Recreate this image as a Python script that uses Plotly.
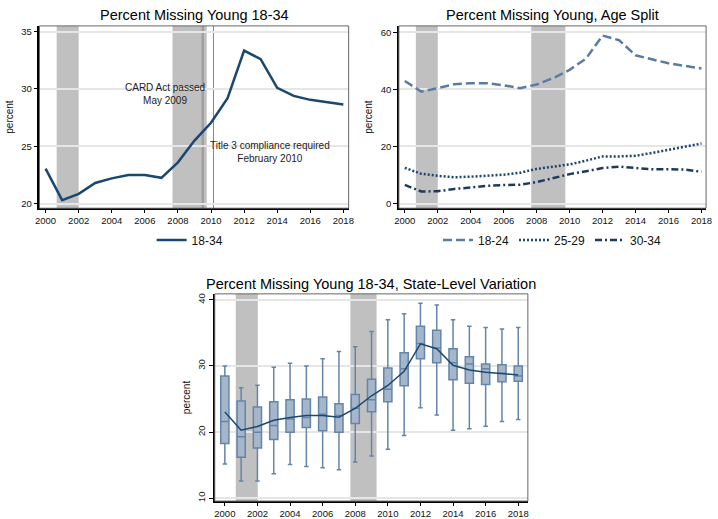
import plotly.graph_objects as go

W, H = 718, 519

years = list(range(2000, 2019))

# national share missing, 18-34
pct_18_34 = [23.05, 20.3, 20.85, 21.8, 22.2, 22.5, 22.5, 22.25, 23.6, 25.5,
             27.05, 29.2, 33.35, 32.6, 30.1, 29.4, 29.05, 28.85, 28.65]

# age split
pct_18_24 = [42.9, 39.2, 40.4, 41.8, 42.1, 42.1, 41.4, 40.4, 41.7, 43.9,
             46.8, 50.8, 58.8, 57.2, 51.9, 50.5, 49.1, 48.2, 47.3]
pct_25_29 = [12.5, 10.4, 9.7, 9.2, 9.4, 9.7, 10.1, 10.8, 12.1, 12.9,
             13.7, 15.0, 16.5, 16.5, 16.7, 17.7, 18.8, 19.9, 21.0]
pct_30_34 = [6.5, 4.2, 4.3, 5.1, 5.6, 6.2, 6.5, 6.6, 7.5, 8.9,
             10.3, 11.3, 12.4, 12.9, 12.4, 12.0, 12.0, 11.9, 11.1]

# state-level distribution (box plot stats)
st_upper = [30.0, 26.7, 27.1, 29.8, 30.4, 30.0, 31.1, 32.2, 32.9, 35.2,
            37.0, 37.9, 39.5, 39.2, 37.0, 36.0, 35.8, 35.6, 35.8]
st_q3 = [28.5, 24.7, 23.8, 24.6, 24.9, 25.0, 25.3, 24.3, 25.7, 28.0,
         29.7, 32.0, 36.0, 35.4, 32.6, 31.4, 30.3, 30.2, 30.0]
st_median = [21.6, 19.3, 20.0, 21.0, 22.0, 22.2, 22.7, 22.5, 23.6, 24.9,
             26.5, 29.6, 33.4, 32.7, 30.5, 30.3, 29.6, 28.9, 28.5]
st_q1 = [18.3, 16.2, 17.6, 18.9, 20.0, 20.7, 20.2, 20.0, 21.3, 23.1,
         24.6, 27.0, 31.1, 30.5, 27.9, 27.4, 27.2, 27.6, 27.7]
st_lower = [15.2, 12.6, 12.6, 13.7, 15.1, 14.8, 14.6, 14.3, 15.5, 16.4,
            17.4, 19.5, 23.7, 22.6, 20.3, 20.5, 20.9, 21.6, 21.9]

recessions_top = [(2000.67, 2002.0), (2007.67, 2009.74)]
recessions_bottom = [(2000.67, 2002.02), (2007.7, 2009.31)]
card_act = 2009.5
title3 = 2010.15

FONT = "Liberation Sans, Arial, sans-serif"
NAVY = "#1a476f"

def px_x(p):
    return p / W

def px_y(p):
    return 1 - p / H

fig = go.Figure()

# panel 1
fig.add_trace(go.Scatter(x=years, y=pct_18_34, mode="lines", name="18-34",
                         line=dict(color=NAVY, width=2.5),
                         xaxis="x", yaxis="y", legend="legend"))
# panel 2
fig.add_trace(go.Scatter(x=years, y=pct_18_24, mode="lines", name="18-24",
                         line=dict(color="#5b7ca1", width=2.5, dash="9px,4px"),
                         xaxis="x2", yaxis="y2", legend="legend2"))
fig.add_trace(go.Scatter(x=years, y=pct_25_29, mode="lines", name="25-29",
                         line=dict(color="#1c4470", width=2.5, dash="2px,2px"),
                         xaxis="x2", yaxis="y2", legend="legend2"))
fig.add_trace(go.Scatter(x=years, y=pct_30_34, mode="lines", name="30-34",
                         line=dict(color="#1d3a5e", width=2.5, dash="7px,3px,2px,3px"),
                         xaxis="x2", yaxis="y2", legend="legend2"))
# panel 3
fig.add_trace(go.Box(x=years, q1=st_q1, median=st_median, q3=st_q3,
                     lowerfence=st_lower, upperfence=st_upper,
                     fillcolor="#a6b6ca", line=dict(color="#6385a9", width=1.5),
                     width=0.5, whiskerwidth=0.55, boxpoints=False,
                     showlegend=False, xaxis="x3", yaxis="y3", hoverinfo="skip"))
fig.add_trace(go.Scatter(x=years, y=pct_18_34, mode="lines",
                         line=dict(color=NAVY, width=1.5), showlegend=False,
                         xaxis="x3", yaxis="y3"))

shapes = []
for (a, b) in recessions_top:
    for xr, yr in (("x", "y"), ("x2", "y2")):
        shapes.append(dict(type="rect", xref=xr, yref=yr + " domain", x0=a, x1=b,
                           y0=0, y1=1, fillcolor="#c0c0c0", line=dict(width=0),
                           layer="below"))
for (a, b) in recessions_bottom:
    shapes.append(dict(type="rect", xref="x3", yref="y3 domain", x0=a, x1=b,
                       y0=0, y1=1, fillcolor="#c0c0c0", line=dict(width=0),
                       layer="below"))
shapes.append(dict(type="line", xref="x", yref="y domain", x0=card_act, x1=card_act,
                   y0=0, y1=1, line=dict(color="#a0a0a0", width=2.5), layer="below"))
shapes.append(dict(type="line", xref="x", yref="y domain", x0=title3, x1=title3,
                   y0=0, y1=1, line=dict(color="#888888", width=1), layer="below"))
# plot region outlines
for xr, yr in (("x", "y"), ("x2", "y2"), ("x3", "y3")):
    shapes.append(dict(type="rect", xref=xr + " domain", yref=yr + " domain",
                       x0=0, x1=1, y0=0, y1=1, line=dict(color="#666666", width=1),
                       layer="above"))

panels = {
    "1": dict(x0=35, x1=349, y0=25, y1=208),
    "2": dict(x0=400, x1=712, y0=25, y1=208),
    "3": dict(x0=213, x1=531, y0=294, y1=502),
}

def xaxis(p, rng):
    d = panels[p]
    return dict(domain=[px_x(d["x0"]), px_x(d["x1"])], range=rng,
                anchor="y" if p == "1" else "y" + p,
                tickmode="array", tickvals=list(range(2000, 2019, 2)),
                ticks="outside", ticklen=3, tickcolor="#000",
                showline=True, linecolor="#000", linewidth=1.5,
                showgrid=False, zeroline=False,
                tickfont=dict(family=FONT, size=9.5, color="#111"))

def yaxis(p, rng, tv, angle=0, standoff=2):
    d = panels[p]
    return dict(domain=[px_y(d["y1"]), px_y(d["y0"])], range=rng,
                anchor="x" if p == "1" else "x" + p,
                tickmode="array", tickvals=tv, tickangle=angle,
                ticks="outside", ticklen=4, tickcolor="#000",
                showline=True, linecolor="#000", linewidth=1.5,
                showgrid=True, gridcolor="#e6e6e6", gridwidth=1.5,
                zeroline=False,
                title=dict(text="percent", font=dict(family=FONT, size=10, color="#111"),
                           standoff=standoff),
                tickfont=dict(family=FONT, size=9.5, color="#111"))

annotations = []
titles = [("Percent Missing Young 18-34", "1", 14),
          ("Percent Missing Young, Age Split", "2", 14),
          ("Percent Missing Young 18-34, State-Level Variation", "3", 284)]
for text, p, ypx in titles:
    d = panels[p]
    annotations.append(dict(text=text, xref="paper", yref="paper",
                            x=px_x((d["x0"] + d["x1"]) / 2), y=px_y(ypx),
                            xanchor="center", yanchor="middle", showarrow=False,
                            font=dict(family=FONT, size=14.5, color="#000")))
annotations.append(dict(text="CARD Act passed<br>May 2009", xref="x", yref="y",
                        x=2007.2, y=29.6, showarrow=False, align="center",
                        font=dict(family=FONT, size=10, color="#222")))
annotations.append(dict(text="Title 3 compliance required<br>February 2010", xref="x", yref="y",
                        x=2013.55, y=24.5, showarrow=False, align="center",
                        font=dict(family=FONT, size=10, color="#222")))

fig.update_layout(
    width=W, height=H, margin=dict(l=0, r=0, t=0, b=0),
    paper_bgcolor="white", plot_bgcolor="white",
    font=dict(family=FONT),
    xaxis=xaxis("1", [1999.63, 2018.32]),
    yaxis=yaxis("1", [19.6, 35.5], [20, 25, 30, 35], standoff=6),
    xaxis2=xaxis("2", [1999.64, 2018.28]),
    yaxis2=yaxis("2", [-1.64, 62.2], [0, 20, 40, 60], standoff=6),
    xaxis3=xaxis("3", [1999.38, 2018.59]),
    yaxis3=yaxis("3", [9.58, 40.9], [10, 20, 30, 40], angle=-90, standoff=4),
    shapes=shapes, annotations=annotations,
    legend=dict(orientation="h", x=px_x(188), y=px_y(240), xanchor="center",
                yanchor="middle", font=dict(family=FONT, size=12, color="#111"),
                bgcolor="rgba(0,0,0,0)"),
    legend2=dict(orientation="h", x=px_x(556), y=px_y(240), xanchor="center",
                 yanchor="middle", font=dict(family=FONT, size=12, color="#111"),
                 bgcolor="rgba(0,0,0,0)"),
    showlegend=True,
)

fig.write_html("out.html")
